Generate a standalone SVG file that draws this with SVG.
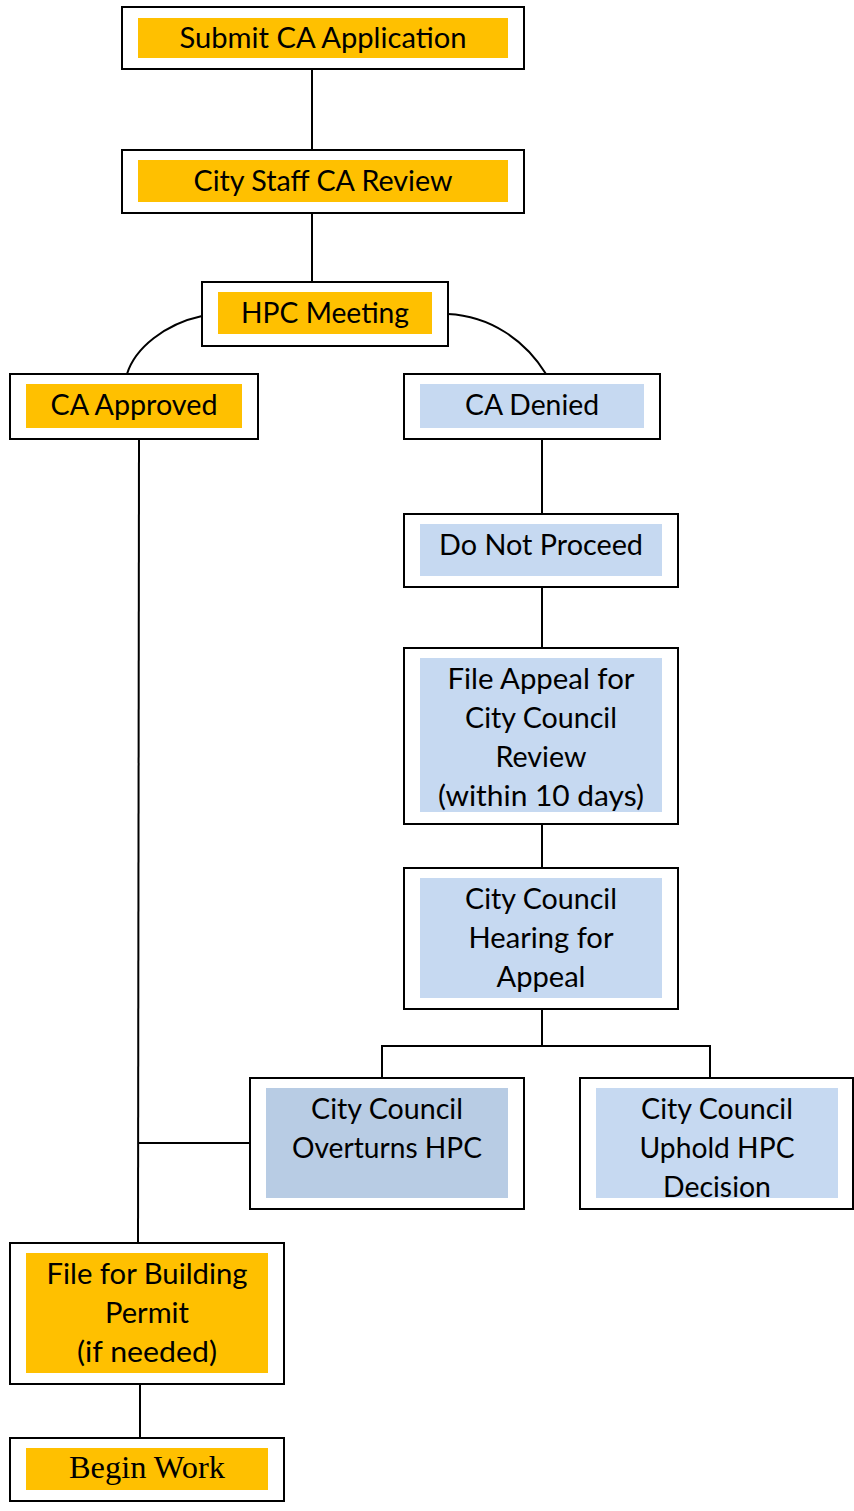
<svg xmlns="http://www.w3.org/2000/svg" width="854" height="1511" viewBox="0 0 854 1511">
<style>
.box{fill:#fff;stroke:#000;stroke-width:2}
.or{fill:#FFC000}
.bl{fill:#C6D9F1}
.bd{fill:#B8CCE4}
.t{font-family:Lato,"Liberation Sans",sans-serif;font-size:28px;fill:#000;text-anchor:middle}
.s{font-family:"Liberation Serif",serif;font-size:31px;fill:#000;text-anchor:middle}
.c{fill:none;stroke:#000;stroke-width:2}
</style>
<rect width="854" height="1511" fill="#fff"/>
<g id="connectors">
<line class="c" x1="312" y1="69" x2="312" y2="150"/>
<line class="c" x1="312" y1="213" x2="312" y2="282"/>
<path class="c" d="M202,316 C165,324 135,348 127,374"/>
<path class="c" d="M448,314 C490,316 525,340 546,374"/>
<line class="c" x1="542" y1="439" x2="542" y2="514"/>
<line class="c" x1="542" y1="587" x2="542" y2="648"/>
<line class="c" x1="542" y1="824" x2="542" y2="868"/>
<polyline class="c" points="542,1009 542,1046 382,1046 382,1078"/>
<polyline class="c" points="542,1046 710,1046 710,1078"/>
<line class="c" x1="139" y1="439" x2="138" y2="1243"/>
<line class="c" x1="138" y1="1143" x2="250" y2="1143"/>
<line class="c" x1="140" y1="1384" x2="140" y2="1438"/>
</g>
<g id="submit">
<rect class="box" x="122" y="7" width="402" height="62"/>
<rect class="or" x="138" y="18" width="370" height="40"/>
<text class="t" x="323" y="48" textLength="287" lengthAdjust="spacingAndGlyphs">Submit CA Application</text>
</g>
<g id="staff-review">
<rect class="box" x="122" y="150" width="402" height="63"/>
<rect class="or" x="138" y="160" width="370" height="42"/>
<text class="t" x="323" y="191" textLength="259" lengthAdjust="spacingAndGlyphs">City Staff CA Review</text>
</g>
<g id="hpc-meeting">
<rect class="box" x="202" y="282" width="246" height="64"/>
<rect class="or" x="218" y="292" width="214" height="42"/>
<text class="t" x="325" y="323" textLength="168" lengthAdjust="spacingAndGlyphs">HPC Meeting</text>
</g>
<g id="ca-approved">
<rect class="box" x="10" y="374" width="248" height="65"/>
<rect class="or" x="26" y="384" width="216" height="44"/>
<text class="t" x="134" y="415" textLength="167" lengthAdjust="spacingAndGlyphs">CA Approved</text>
</g>
<g id="ca-denied">
<rect class="box" x="404" y="374" width="256" height="65"/>
<rect class="bl" x="420" y="384" width="224" height="44"/>
<text class="t" x="532" y="415" textLength="134" lengthAdjust="spacingAndGlyphs">CA Denied</text>
</g>
<g id="do-not-proceed">
<rect class="box" x="404" y="514" width="274" height="73"/>
<rect class="bl" x="420" y="524" width="242" height="52"/>
<text class="t" x="541" y="555" textLength="204" lengthAdjust="spacingAndGlyphs">Do Not Proceed</text>
</g>
<g id="file-appeal">
<rect class="box" x="404" y="648" width="274" height="176"/>
<rect class="bl" x="420" y="658" width="242" height="154"/>
<text class="t" x="541" y="689" textLength="187" lengthAdjust="spacingAndGlyphs">File Appeal for</text>
<text class="t" x="541" y="728" textLength="152" lengthAdjust="spacingAndGlyphs">City Council</text>
<text class="t" x="541" y="767" textLength="91" lengthAdjust="spacingAndGlyphs">Review</text>
<text class="t" x="541" y="806" textLength="206" lengthAdjust="spacingAndGlyphs">(within 10 days)</text>
</g>
<g id="council-hearing">
<rect class="box" x="404" y="868" width="274" height="141"/>
<rect class="bl" x="420" y="878" width="242" height="120"/>
<text class="t" x="541" y="909" textLength="152" lengthAdjust="spacingAndGlyphs">City Council</text>
<text class="t" x="541" y="948" textLength="145" lengthAdjust="spacingAndGlyphs">Hearing for</text>
<text class="t" x="541" y="987" textLength="89" lengthAdjust="spacingAndGlyphs">Appeal</text>
</g>
<g id="overturns">
<rect class="box" x="250" y="1078" width="274" height="131"/>
<rect class="bd" x="266" y="1088" width="242" height="110"/>
<text class="t" x="387" y="1119" textLength="152" lengthAdjust="spacingAndGlyphs">City Council</text>
<text class="t" x="387" y="1158" textLength="190" lengthAdjust="spacingAndGlyphs">Overturns HPC</text>
</g>
<g id="uphold">
<rect class="box" x="580" y="1078" width="273" height="131"/>
<rect class="bl" x="596" y="1088" width="242" height="110"/>
<text class="t" x="717" y="1119" textLength="152" lengthAdjust="spacingAndGlyphs">City Council</text>
<text class="t" x="717" y="1158" textLength="155" lengthAdjust="spacingAndGlyphs">Uphold HPC</text>
<text class="t" x="717" y="1197" textLength="108" lengthAdjust="spacingAndGlyphs">Decision</text>
</g>
<g id="building-permit">
<rect class="box" x="10" y="1243" width="274" height="141"/>
<rect class="or" x="26" y="1253" width="242" height="120"/>
<text class="t" x="147" y="1284" textLength="201" lengthAdjust="spacingAndGlyphs">File for Building</text>
<text class="t" x="147" y="1323" textLength="84" lengthAdjust="spacingAndGlyphs">Permit</text>
<text class="t" x="147" y="1362" textLength="140" lengthAdjust="spacingAndGlyphs">(if needed)</text>
</g>
<g id="begin-work">
<rect class="box" x="10" y="1438" width="274" height="63"/>
<rect class="or" x="26" y="1448" width="242" height="42"/>
<text class="s" x="147" y="1478" textLength="156" lengthAdjust="spacingAndGlyphs">Begin Work</text>
</g>
</svg>
